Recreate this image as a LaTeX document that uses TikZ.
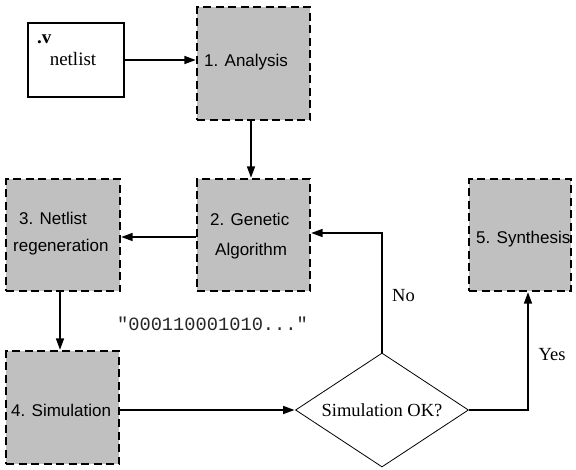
\documentclass[tikz,border=0pt]{standalone}
\usepackage{fontspec}
\setmainfont{Liberation Serif}
\setsansfont{Liberation Sans}
\setmonofont{Liberation Mono}
\usetikzlibrary{arrows.meta,shapes.geometric}
\definecolor{boxgray}{RGB}{192,192,192}
\begin{document}
\begin{tikzpicture}[x=1pt,y=-1pt,
  stage/.style={draw, fill=boxgray, dash pattern=on 8pt off 4.5pt, line width=1.3pt, inner sep=0},
  flow/.style={line width=2.8pt, -{Triangle[length=12pt,width=7.5pt]}},
  lab/.style={font=\sffamily\fontsize{17}{20}\selectfont, inner sep=0, anchor=base west},
  ser/.style={font=\fontsize{18.5}{22}\selectfont, inner sep=0, anchor=base}]
\useasboundingbox (0,0) rectangle (576,469);

% boxes
\node[draw, line width=1.4pt, fill=white, minimum width=96pt, minimum height=74pt, inner sep=0] (net) at (76,60) {};
\node[stage, minimum width=113pt, minimum height=113pt] (b1) at (253.5,63.5) {};
\node[stage, minimum width=113pt, minimum height=112pt] (b2) at (253.5,235) {};
\node[stage, minimum width=114pt, minimum height=112pt] (b3) at (63,235) {};
\node[stage, minimum width=113pt, minimum height=113pt] (b4) at (62.5,407.5) {};
\node[stage, minimum width=102pt, minimum height=112pt] (b5) at (520,235) {};
\node[draw, line width=0.8pt, diamond, aspect=1.52, minimum width=173pt, minimum height=114pt, inner sep=0,
      font=\fontsize{18.5}{22}\selectfont] (dia) at (382,410) {Simulation OK?};

% texts
\node[ser, font=\bfseries\fontsize{19}{22}\selectfont, anchor=base west] (dotv) at (37,43) {.v};
\node[ser, font=\fontsize{19}{22}\selectfont] (nl) at (73,65) {netlist};
\node[lab] (t1) at (204,66) {1. Analysis};
\node[lab] (t2a) at (210,225) {2. Genetic};
\node[lab] (t2b) at (215,255) {Algorithm};
\node[lab] (t3a) at (19,224) {3. Netlist};
\node[lab] (t3b) at (13,251) {regeneration};
\node[lab] (t4) at (11,416) {4. Simulation};
\node[lab] (t5) at (476,243) {5. Synthesis};
\node[font=\ttfamily\fontsize{18.7}{22}\selectfont, text=black!85, inner sep=0, anchor=base] (bits) at (212.5,330) {"000110001010..."};
\node[ser] (no) at (403.5,301) {No};
\node[ser] (yes) at (552,360) {Yes};

% connectors
\coordinate (x60) at (60,0);
\draw[flow] (net.east) -- (net.east -| b1.west);
\draw[flow] ([xshift=-2.5pt]b1.south) -- ([xshift=-2.5pt]b2.north);
\draw[flow] ([yshift=-2pt]b2.west) -- ([yshift=-2pt]b3.east);
\draw[flow] (b3.south -| x60) -- (b4.north -| x60);
\draw[flow] (b4.east |- dia.west) -- (dia.west);
\draw[flow] (dia.north) |- ([yshift=2pt]b2.east);
\draw[flow] (dia.east) -| ([xshift=8pt]b5.south);
\end{tikzpicture}
\end{document}
